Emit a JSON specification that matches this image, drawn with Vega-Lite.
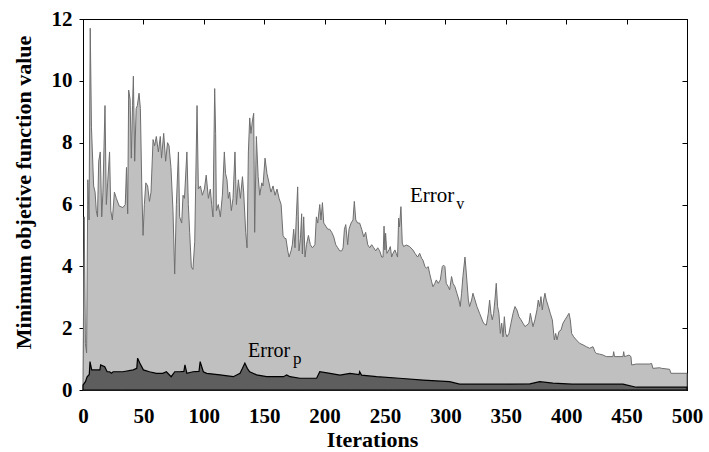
{
  "$schema": "https://vega.github.io/schema/vega-lite/v6.json",
  "width": 604,
  "height": 371,
  "autosize": {"type": "none"},
  "padding": {"left": 83, "top": 19, "right": 22, "bottom": 62},
  "background": "#ffffff",
  "config": {"view": {"stroke": "#000000", "strokeWidth": 1}, "font": "Liberation Serif"},
  "datasets": {
    "ev": [
      {"it":0,"err":0.3},{"it":1,"err":5.6},{"it":2,"err":1.5},{"it":3,"err":1.2},{"it":4,"err":6.8},{"it":5,"err":5.5},{"it":6,"err":11.7},{"it":7,"err":8.5},{"it":8.8,"err":6.6},{"it":10,"err":6.4},{"it":11,"err":5.8},{"it":12,"err":5.6},{"it":13,"err":7.4},{"it":14.3,"err":7.7},{"it":15.5,"err":5.6},{"it":16.5,"err":6.4},{"it":18.2,"err":9.2},{"it":19.3,"err":6.0},{"it":20.4,"err":6.7},{"it":22,"err":7.7},{"it":23,"err":5.8},{"it":24.3,"err":5.5},{"it":26,"err":6.4},{"it":27.6,"err":6.2},{"it":30,"err":5.95},{"it":33,"err":5.9},{"it":35,"err":6.0},{"it":36,"err":7.2},{"it":37,"err":5.7},{"it":37.8,"err":9.7},{"it":39,"err":9.4},{"it":40,"err":7.5},{"it":41,"err":9.2},{"it":41.7,"err":10.15},{"it":42.8,"err":7.4},{"it":44,"err":9.1},{"it":45,"err":9.2},{"it":46.4,"err":9.6},{"it":47.5,"err":9.1},{"it":48.6,"err":6.7},{"it":49.7,"err":5.0},{"it":50.8,"err":6.0},{"it":52,"err":6.7},{"it":53.5,"err":6.6},{"it":55,"err":6.1},{"it":56.3,"err":6.4},{"it":58,"err":8.1},{"it":59.3,"err":7.9},{"it":60.7,"err":8.2},{"it":62.4,"err":7.7},{"it":64,"err":8.2},{"it":65,"err":7.5},{"it":66.8,"err":8.3},{"it":68.4,"err":7.4},{"it":70,"err":8.0},{"it":71.2,"err":7.9},{"it":72.8,"err":7.2},{"it":74.5,"err":5.8},{"it":75.9,"err":3.75},{"it":77.3,"err":6.0},{"it":79,"err":7.7},{"it":80,"err":5.6},{"it":81.7,"err":5.4},{"it":82.8,"err":6.3},
      {"it":84,"err":6.2},{"it":86,"err":7.7},{"it":87.2,"err":6.0},{"it":88.3,"err":5.1},{"it":89.7,"err":3.98},{"it":91,"err":3.9},{"it":92.5,"err":4.8},{"it":93.3,"err":6.7},{"it":94.4,"err":9.2},{"it":95.5,"err":6.5},{"it":97.2,"err":6.6},{"it":98.8,"err":6.3},{"it":100.5,"err":6.5},{"it":102,"err":6.95},{"it":103.8,"err":6.2},{"it":105.4,"err":6.5},{"it":106.5,"err":6.0},{"it":107.6,"err":5.6},{"it":109,"err":9.75},{"it":109.8,"err":8.3},{"it":110.4,"err":5.8},{"it":112,"err":6.0},{"it":113.7,"err":5.6},{"it":115.4,"err":6.3},{"it":117,"err":7.7},{"it":118,"err":7.0},{"it":119.2,"err":6.8},{"it":120.3,"err":6.2},{"it":121.4,"err":6.4},{"it":122.8,"err":5.8},{"it":124.2,"err":6.2},{"it":125.8,"err":7.7},{"it":127,"err":6.0},{"it":128.6,"err":6.8},{"it":130.3,"err":6.2},{"it":132,"err":6.9},{"it":133,"err":6.4},{"it":134.7,"err":5.1},{"it":135.8,"err":4.6},{"it":136.9,"err":7.7},{"it":138,"err":8.8},{"it":139,"err":8.3},{"it":140.2,"err":8.7},{"it":141.3,"err":8.95},{"it":142.1,"err":5.1},{"it":143.5,"err":8.2},{"it":145,"err":6.9},{"it":146.3,"err":6.3},{"it":148,"err":6.7},{"it":149,"err":6.6},{"it":150.7,"err":7.5},{"it":152.3,"err":7.0},{"it":154,"err":6.7},{"it":155.6,"err":6.4},{"it":157.3,"err":6.6},{"it":159,"err":6.3},{"it":160.6,"err":6.5},{"it":162.3,"err":6.2},{"it":164,"err":6.0},{"it":165.6,"err":5.0},
      {"it":167,"err":4.9},{"it":168,"err":4.9},{"it":169.5,"err":4.5},{"it":170.6,"err":4.3},{"it":172.2,"err":4.5},{"it":173.3,"err":4.7},{"it":174.4,"err":5.2},{"it":175.5,"err":4.6},{"it":176.6,"err":5.6},{"it":177.7,"err":6.57},{"it":178.8,"err":4.5},{"it":180,"err":4.9},{"it":181,"err":5.7},{"it":181.6,"err":4.4},{"it":182.7,"err":5.6},{"it":183.8,"err":4.3},{"it":185,"err":4.7},{"it":186.6,"err":5.0},{"it":188.2,"err":4.7},{"it":189.9,"err":4.6},{"it":192,"err":4.7},{"it":193.2,"err":5.6},{"it":194.3,"err":5.4},{"it":196,"err":6.0},{"it":197,"err":5.5},{"it":198.2,"err":6.06},{"it":199.3,"err":5.4},{"it":201,"err":5.3},{"it":202.6,"err":5.2},{"it":204.2,"err":5.2},{"it":205.9,"err":5.1},{"it":207.6,"err":4.95},{"it":209.2,"err":4.7},{"it":210.9,"err":4.6},{"it":212.5,"err":4.5},{"it":214.2,"err":4.5},{"it":215.3,"err":4.6},{"it":216.4,"err":5.2},{"it":217.5,"err":5.35},{"it":219.1,"err":4.7},{"it":220.2,"err":5.2},{"it":221.9,"err":5.4},{"it":223.5,"err":5.5},{"it":224.6,"err":6.1},{"it":225.8,"err":5.5},{"it":227.4,"err":5.4},{"it":229,"err":5.4},{"it":230.7,"err":5.2},{"it":232.4,"err":4.95},{"it":234,"err":5.1},{"it":235.7,"err":4.7},{"it":237.3,"err":4.6},{"it":239,"err":4.7},{"it":240.7,"err":4.6},{"it":242.3,"err":4.5},{"it":244,"err":4.6},{"it":245.6,"err":4.5},{"it":247.3,"err":4.3},{"it":248.4,"err":4.3},{"it":249.2,"err":5.3},
      {"it":249.9,"err":4.53},{"it":250.5,"err":5.07},{"it":251.6,"err":4.42},{"it":253.3,"err":4.53},{"it":254.4,"err":4.64},{"it":255.5,"err":4.3},{"it":256.6,"err":4.42},{"it":258.2,"err":4.53},{"it":259.3,"err":4.42},{"it":260.4,"err":4.3},{"it":261.3,"err":5.56},{"it":262,"err":5.28},{"it":263.2,"err":5.93},{"it":264.3,"err":4.75},{"it":265.4,"err":4.64},{"it":267.6,"err":4.69},{"it":270.4,"err":4.64},{"it":273.1,"err":4.53},{"it":274.8,"err":4.42},{"it":277,"err":4.3},{"it":278.7,"err":4.42},{"it":280.3,"err":4.26},{"it":281.4,"err":4.2},{"it":283.1,"err":3.99},{"it":284.2,"err":3.94},{"it":285.8,"err":3.99},{"it":286.9,"err":3.78},{"it":288.6,"err":3.5},{"it":289.7,"err":3.34},{"it":291.3,"err":3.45},{"it":292.5,"err":3.56},{"it":294.1,"err":3.45},{"it":295.8,"err":3.56},{"it":297.4,"err":3.99},{"it":298.5,"err":4.04},{"it":299.6,"err":3.99},{"it":300.7,"err":3.45},{"it":302.4,"err":3.34},{"it":303.5,"err":3.24},{"it":305.1,"err":3.67},{"it":306.3,"err":3.45},{"it":307.9,"err":3.34},{"it":309.5,"err":3.13},{"it":311.2,"err":2.91},{"it":312.3,"err":2.7},{"it":313.4,"err":3.13},{"it":314.5,"err":3.67},{"it":316.2,"err":4.3},{"it":317.3,"err":3.78},{"it":319,"err":2.91},{"it":320,"err":2.7},{"it":321.7,"err":2.91},{"it":322.8,"err":3.13},{"it":324.5,"err":2.91},{"it":326.1,"err":2.7},{"it":328.3,"err":2.48},{"it":331.1,"err":2.2},{"it":332.5,"err":2.12},
      {"it":333.9,"err":2.1},{"it":335.5,"err":2.48},{"it":336.6,"err":2.91},{"it":337.7,"err":2.48},{"it":338.8,"err":2.27},{"it":339.9,"err":2.48},{"it":341,"err":2.91},{"it":342.1,"err":3.45},{"it":343.2,"err":2.7},{"it":344.3,"err":2.48},{"it":345.5,"err":1.83},{"it":346.6,"err":2.16},{"it":347.7,"err":1.72},{"it":348.8,"err":2.37},{"it":349.9,"err":1.83},{"it":351,"err":1.72},{"it":352.6,"err":1.83},{"it":354.3,"err":2.16},{"it":356,"err":2.48},{"it":357.6,"err":2.7},{"it":359.2,"err":2.59},{"it":360.9,"err":2.37},{"it":362.6,"err":2.27},{"it":364.2,"err":2.16},{"it":365.9,"err":2.05},{"it":367.5,"err":2.1},{"it":369.2,"err":2.16},{"it":370.3,"err":2.48},{"it":371.4,"err":2.27},{"it":372.5,"err":2.05},{"it":374.1,"err":2.27},{"it":375.8,"err":2.59},{"it":376.9,"err":2.91},{"it":378,"err":2.7},{"it":379.1,"err":3.02},{"it":380.2,"err":2.59},{"it":381.3,"err":2.91},{"it":382.4,"err":3.13},{"it":383.5,"err":2.91},{"it":385.2,"err":2.7},{"it":386.8,"err":2.48},{"it":388.5,"err":2.27},{"it":390.2,"err":1.62},{"it":391.3,"err":1.83},{"it":392.4,"err":1.62},{"it":394,"err":1.89},{"it":395.7,"err":1.94},{"it":397.3,"err":2.16},{"it":399,"err":2.27},{"it":400.6,"err":2.37},{"it":402.3,"err":2.48},{"it":403.4,"err":2.27},{"it":404.5,"err":1.83},{"it":406.2,"err":1.72},{"it":408.4,"err":1.62},{"it":411.1,"err":1.51},{"it":413.9,"err":1.46},
      {"it":416.7,"err":1.4},{"it":419.4,"err":1.35},{"it":422.2,"err":1.4},{"it":423.8,"err":1.24},{"it":425,"err":1.18},{"it":427.7,"err":1.16},{"it":430.5,"err":1.13},{"it":433.2,"err":1.08},{"it":438.7,"err":1.08},{"it":439.3,"err":1.24},{"it":440,"err":1.08},{"it":447,"err":1.08},{"it":447.6,"err":1.24},{"it":448.2,"err":1.08},{"it":449.8,"err":1.1},{"it":452,"err":1.13},{"it":453.6,"err":1.08},{"it":454.2,"err":0.81},{"it":458,"err":0.84},{"it":469,"err":0.84},{"it":470.7,"err":0.86},{"it":471.8,"err":0.7},{"it":477.4,"err":0.72},{"it":479,"err":0.7},{"it":485.6,"err":0.67},{"it":486.7,"err":0.54},{"it":500,"err":0.54}
    ],
    "ep": [
      {"it":0,"err":0.16},{"it":2,"err":0.27},{"it":3.4,"err":0.43},{"it":5.2,"err":0.5},{"it":5.8,"err":0.92},{"it":7.2,"err":0.65},{"it":14,"err":0.65},{"it":14.6,"err":0.81},{"it":18,"err":0.75},{"it":20,"err":0.59},{"it":22,"err":0.59},{"it":23.5,"err":0.54},{"it":25,"err":0.59},{"it":33,"err":0.59},{"it":41.6,"err":0.65},{"it":44.5,"err":0.7},{"it":45.2,"err":1.03},{"it":47,"err":0.87},{"it":50,"err":0.65},{"it":55,"err":0.59},{"it":60.7,"err":0.54},{"it":66,"err":0.54},{"it":69,"err":0.59},{"it":73,"err":0.43},{"it":76,"err":0.59},{"it":80,"err":0.59},{"it":83.5,"err":0.6},{"it":84.4,"err":0.81},{"it":86,"err":0.54},{"it":91,"err":0.59},{"it":96,"err":0.6},{"it":97,"err":0.92},{"it":99.6,"err":0.59},{"it":102.4,"err":0.54},{"it":113.4,"err":0.49},{"it":124.4,"err":0.43},{"it":130,"err":0.54},{"it":132,"err":0.7},{"it":134,"err":0.87},{"it":136,"err":0.7},{"it":138,"err":0.59},{"it":143.7,"err":0.49},{"it":152,"err":0.43},{"it":166,"err":0.43},{"it":168.6,"err":0.49},{"it":171.4,"err":0.43},{"it":179.6,"err":0.38},{"it":193.4,"err":0.38},{"it":196,"err":0.59},{"it":204.5,"err":0.54},{"it":212.7,"err":0.48},{"it":221,"err":0.54},{"it":228.5,"err":0.5},{"it":229,"err":0.59},{"it":230.6,"err":0.48},{"it":243,"err":0.43},{"it":262,"err":0.38},{"it":281.5,"err":0.32},{"it":303.5,"err":0.27},{"it":311.8,"err":0.19},{"it":350,"err":0.19},{"it":370,"err":0.2},{"it":378,"err":0.27},{"it":389,"err":0.22},{"it":405,"err":0.19},{"it":447,"err":0.19},{"it":458,"err":0.09},{"it":500,"err":0.09}
    ],
    "labels": [
      {"name": "Error", "sub": "v"},
      {"name": "Error", "sub": "p"}
    ]
  },
  "layer": [
    {
      "data": {"name": "ev"},
      "mark": {"type": "area", "fill": "#c0c0c0", "stroke": "#6e6e6e", "strokeWidth": 1},
      "encoding": {
        "x": {"field": "it", "type": "quantitative", "scale": {"domain": [0, 500], "nice": false},
          "axis": {"orient": "bottom", "values": [0,50,100,150,200,250,300,350,400,450,500], "grid": false,
            "tickSize": -5, "tickColor": "#000000", "tickWidth": 1, "domainColor": "#000000",
            "labelFont": "Liberation Serif", "labelFontWeight": "bold", "labelFontSize": 21, "labelColor": "#000000",
            "labelPadding": 20, "labelFlush": false,
            "title": "Iterations", "titleFont": "Liberation Serif", "titleFontWeight": "bold", "titleFontSize": 22,
            "titleColor": "#000000", "titlePadding": 3, "titleX": 289}},
        "y": {"field": "err", "type": "quantitative", "scale": {"domain": [0, 12], "nice": false},
          "axis": {"orient": "left", "values": [0,2,4,6,8,10,12], "grid": false,
            "tickSize": 4, "tickColor": "#000000", "domainColor": "#000000",
            "labelFont": "Liberation Serif", "labelFontWeight": "bold", "labelFontSize": 21, "labelColor": "#000000",
            "labelPadding": 7, "labelFlush": false,
            "title": "Minimum objetive function value", "titleFont": "Liberation Serif", "titleFontWeight": "bold",
            "titleFontSize": 22, "titleColor": "#000000", "titlePadding": 16, "titleY": 173}}
      }
    },
    {
      "data": {"name": "ep"},
      "mark": {"type": "area", "fill": "#5e5e5e", "stroke": "#000000", "strokeWidth": 1.2},
      "encoding": {
        "x": {"field": "it", "type": "quantitative", "scale": {"domain": [0, 500], "nice": false},
          "axis": {"orient": "top", "values": [0,50,100,150,200,250,300,350,400,450,500], "grid": false,
            "labels": false, "domain": false, "tickSize": -5, "tickColor": "#000000", "title": null}},
        "y": {"field": "err", "type": "quantitative", "scale": {"domain": [0, 12], "nice": false},
          "axis": {"orient": "right", "values": [0,2,4,6,8,10,12], "grid": false,
            "labels": false, "domain": false, "tickSize": -5, "tickColor": "#000000", "title": null}}
      }
    },
    {
      "data": {"name": "labels"},
      "transform": [{"filter": "datum.sub === 'v'"}],
      "layer": [
        {"mark": {"type": "text", "align": "left", "baseline": "alphabetic", "font": "Liberation Serif", "fontSize": 21, "color": "#000000"},
          "encoding": {"x": {"datum": 270.7, "type": "quantitative", "axis": null}, "y": {"datum": 6.08, "type": "quantitative", "axis": null}, "text": {"field": "name"}}},
        {"mark": {"type": "text", "align": "left", "baseline": "alphabetic", "font": "Liberation Serif", "fontSize": 16, "color": "#000000"},
          "encoding": {"x": {"datum": 309, "type": "quantitative", "axis": null}, "y": {"datum": 5.86, "type": "quantitative", "axis": null}, "text": {"field": "sub"}}}
      ]
    },
    {
      "data": {"name": "labels"},
      "transform": [{"filter": "datum.sub === 'p'"}],
      "layer": [
        {"mark": {"type": "text", "align": "left", "baseline": "alphabetic", "font": "Liberation Serif", "fontSize": 20, "color": "#000000"},
          "encoding": {"x": {"datum": 136.6, "type": "quantitative", "axis": null}, "y": {"datum": 1.07, "type": "quantitative", "axis": null}, "text": {"field": "name"}}},
        {"mark": {"type": "text", "align": "left", "baseline": "alphabetic", "font": "Liberation Serif", "fontSize": 17, "color": "#000000"},
          "encoding": {"x": {"datum": 173.8, "type": "quantitative", "axis": null}, "y": {"datum": 0.84, "type": "quantitative", "axis": null}, "text": {"field": "sub"}}}
      ]
    }
  ],
  "resolve": {"axis": {"x": "independent", "y": "independent"}}
}
